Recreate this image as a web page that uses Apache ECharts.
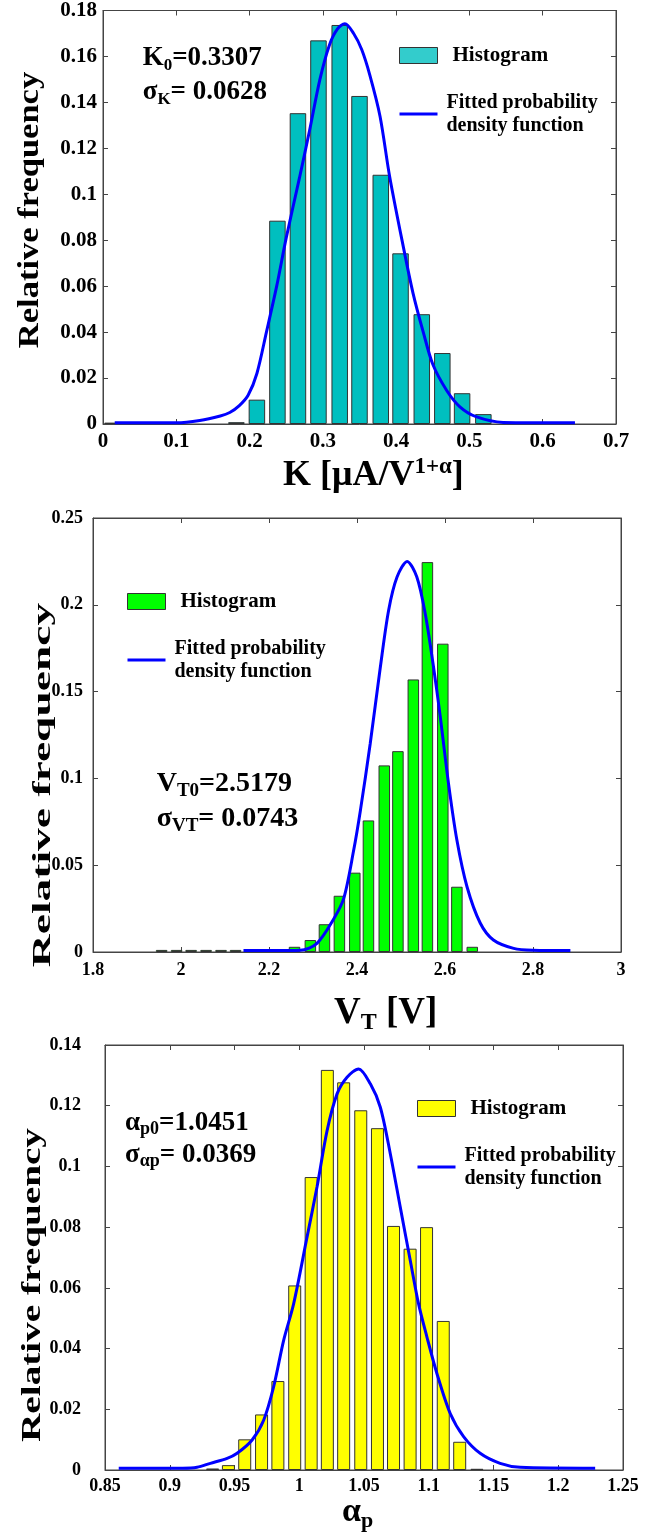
<!DOCTYPE html>
<html>
<head>
<meta charset="utf-8">
<script src="https://cdn.jsdelivr.net/npm/echarts@6/dist/echarts.min.js"></script>
<style>
  html, body { margin: 0; padding: 0; background: #fff; }
  #chart { width: 661px; height: 1533px; }
</style>
</head>
<body>
<div id="chart"></div>
<script>
// --- panel 1: K ---
const kBinCenters = [0.013, 0.182, 0.210, 0.238, 0.266, 0.294, 0.323, 0.350, 0.379, 0.406, 0.435, 0.463, 0.490, 0.519];
const kFrequency = [0.0006, 0.0008, 0.0106, 0.0885, 0.1353, 0.1670, 0.1737, 0.1428, 0.1085, 0.0743, 0.0478, 0.0309, 0.0134, 0.0043];
const kFitX = [0.016, 0.100, 0.132, 0.160, 0.173, 0.186, 0.198, 0.210, 0.223, 0.237, 0.250, 0.268, 0.282, 0.296, 0.309, 0.320, 0.330, 0.342, 0.353, 0.364, 0.378, 0.391, 0.409, 0.423, 0.437, 0.450, 0.469, 0.487, 0.509, 0.546, 0.644];
const kFitY = [0.0005, 0.0005, 0.0015, 0.0035, 0.005, 0.008, 0.0125, 0.022, 0.040, 0.060, 0.081, 0.107, 0.128, 0.150, 0.165, 0.172, 0.1742, 0.170, 0.163, 0.152, 0.134, 0.108, 0.0784, 0.057, 0.040, 0.026, 0.0146, 0.0075, 0.0032, 0.0007, 0.0005];

// --- panel 2: VT ---
const vBinCenters = [1.956, 1.990, 2.023, 2.057, 2.091, 2.124, 2.258, 2.294, 2.326, 2.360, 2.395, 2.426, 2.462, 2.493, 2.528, 2.560, 2.595, 2.627, 2.662];
const vFrequency = [0.0012, 0.0012, 0.0012, 0.0012, 0.0012, 0.0012, 0.003, 0.0069, 0.016, 0.0324, 0.0457, 0.0758, 0.1075, 0.1157, 0.157, 0.2246, 0.1776, 0.0376, 0.003];
const vFitX = [2.142, 2.200, 2.271, 2.309, 2.347, 2.370, 2.392, 2.408, 2.430, 2.453, 2.472, 2.491, 2.514, 2.536, 2.555, 2.574, 2.589, 2.608, 2.627, 2.650, 2.680, 2.710, 2.756, 2.800, 2.885];
const vFitY = [0.0008, 0.0008, 0.001, 0.005, 0.019, 0.031, 0.058, 0.082, 0.120, 0.164, 0.197, 0.216, 0.225, 0.216, 0.195, 0.164, 0.136, 0.097, 0.0645, 0.0376, 0.0167, 0.0069, 0.0021, 0.001, 0.0008];

// --- panel 3: alpha_p ---
const aBinCenters = [0.9331, 0.9453, 0.9579, 0.9709, 0.9835, 0.9965, 1.0092, 1.0217, 1.0343, 1.0475, 1.0604, 1.0728, 1.0856, 1.0983, 1.1112, 1.1239, 1.1372];
const aFrequency = [0.0005, 0.0016, 0.0101, 0.0183, 0.0293, 0.0608, 0.0965, 0.1318, 0.1277, 0.1185, 0.1126, 0.0804, 0.0729, 0.0800, 0.0491, 0.0093, 0.0004];
const aFitX = [0.8606, 0.9100, 0.9211, 0.9314, 0.9443, 0.9520, 0.9636, 0.9725, 0.9802, 0.9880, 0.9957, 1.0060, 1.0137, 1.0215, 1.0292, 1.0369, 1.0458, 1.0549, 1.0626, 1.0703, 1.0780, 1.0857, 1.0921, 1.0986, 1.1063, 1.1166, 1.1269, 1.1397, 1.1551, 1.1706, 1.2285];
const aFitY = [0.0006, 0.0006, 0.0009, 0.0022, 0.0038, 0.0055, 0.0099, 0.0164, 0.0274, 0.0428, 0.0548, 0.0767, 0.0932, 0.1118, 0.1239, 0.1294, 0.1321, 0.1272, 0.1195, 0.1042, 0.0866, 0.0691, 0.0548, 0.0438, 0.0318, 0.0186, 0.0110, 0.0055, 0.0022, 0.0009, 0.0006];

// axis ranges: [min, max, interval]
const xRanges = [[0, 0.7, 0.1], [1.8, 3, 0.2], [0.85, 1.25, 0.05]];
const yRanges = [[0, 0.18, 0.02], [0, 0.25, 0.05], [0, 0.14, 0.02]];

const HIST = "Histogram";
const FIT = "Fitted probability\ndensity function";
const FONT = "Liberation Serif";
const FRAME = "#444";
const histColors = ["#00bfbf", "#00ff00", "#ffff00"];
const legendColors = ["#33cccc", "#00ff00", "#ffff00"];

const grids = [
  { left: 103, top: 2, width: 513, height: 422 },
  { left: 93, top: 518, width: 528, height: 434 },
  { left: 105, top: 1045, width: 518, height: 425 },
];
const tickFont = [21, 18, 18];
const yLabelMargin = [6, 10, 24];
const xLabelMargin = [7, 9, 7];

function valueAxis(i, range, extra) {
  return Object.assign({
    type: "value",
    gridIndex: i,
    min: range[0],
    max: range[1],
    interval: range[2],
    splitLine: { show: false },
    axisLine: { show: true, onZero: false, lineStyle: { color: FRAME, width: 1 } },
    axisTick: { show: true, inside: true, length: 5, lineStyle: { color: FRAME } },
    axisLabel: {
      fontFamily: FONT, fontWeight: "bold", fontSize: tickFont[i], color: "#000",
    },
  }, extra);
}

const xAxes = [];
const yAxes = [];
[0, 1, 2].forEach((i) => {
  xAxes.push(valueAxis(i, xRanges[i], {
    position: "bottom",
    axisLabel: { fontFamily: FONT, fontWeight: "bold", fontSize: tickFont[i], color: "#000", margin: xLabelMargin[i] },
  }));
  yAxes.push(valueAxis(i, yRanges[i], {
    position: "left",
    axisLabel: { fontFamily: FONT, fontWeight: "bold", fontSize: tickFont[i], color: "#000", margin: yLabelMargin[i] },
  }));
});
[0, 1, 2].forEach((i) => {
  xAxes.push(valueAxis(i, xRanges[i], { position: "top", axisLabel: { show: false } }));
  yAxes.push(valueAxis(i, yRanges[i], { position: "right", axisLabel: { show: false } }));
});

const panels = [
  [kBinCenters, kFrequency, kFitX, kFitY, 16.5],
  [vBinCenters, vFrequency, vFitX, vFitY, 11.5],
  [aBinCenters, aFrequency, aFitX, aFitY, 13],
];

const series = [];
panels.forEach(([centers, freq, fitX, fitY, barW], i) => {
  series.push({
    name: HIST,
    type: "bar",
    xAxisIndex: i,
    yAxisIndex: i,
    barWidth: barW,
    data: centers.map((c, j) => [c, freq[j]]),
    itemStyle: { color: histColors[i], borderColor: "#333", borderWidth: 1 },
    z: 2,
  });
  series.push({
    name: FIT,
    type: "line",
    xAxisIndex: i,
    yAxisIndex: i,
    smooth: 0.3,
    symbol: "none",
    data: fitX.map((x, j) => [x, fitY[j]]),
    lineStyle: { color: "#0000ff", width: 3 },
    itemStyle: { color: "#0000ff" },
    z: 3,
  });
});

const legendPos = [[399, 44], [127, 590], [417, 1097]];
const legends = legendPos.map(([left, top], i) => ({
  left, top,
  padding: 0,
  orient: "vertical",
  itemWidth: 38,
  itemHeight: 16,
  itemGap: 24,
  selectedMode: false,
  textStyle: { fontFamily: FONT, fontWeight: "bold", fontSize: 20, lineHeight: 23, color: "#000" },
  data: [
    { name: HIST, icon: "rect", itemStyle: { color: legendColors[i], borderColor: "#333", borderWidth: 1 },
      textStyle: { fontSize: 21, padding: [0, 0, 0, 10] } },
    { name: FIT, icon: "path://M0,0H38V3H0Z", itemStyle: { color: "#0000ff", borderWidth: 0 },
      textStyle: { padding: [0, 0, 0, 4] } },
  ],
}));

function richText(x, y, text, main, sub, lineH, extra) {
  return Object.assign({
    type: "text",
    x, y,
    silent: true,
    style: {
      text,
      fill: "#000",
      align: "left",
      verticalAlign: "top",
      rich: {
        m: { fontFamily: FONT, fontWeight: "bold", fontSize: main, lineHeight: lineH, fill: "#000" },
        s: { fontFamily: FONT, fontWeight: "bold", fontSize: sub, lineHeight: lineH, verticalAlign: "bottom", fill: "#000" },
        u: { fontFamily: FONT, fontWeight: "bold", fontSize: sub, lineHeight: lineH, verticalAlign: "top", fill: "#000" },
      },
    },
  }, extra || {});
}

function yTitle(x, y, size, stretch) {
  return {
    type: "text",
    x, y,
    rotation: Math.PI / 2,
    scaleX: stretch,
    silent: true,
    style: {
      text: "Relative frequency",
      fontFamily: FONT, fontWeight: "bold", fontSize: size,
      fill: "#000", align: "center", verticalAlign: "middle",
    },
  };
}

const graphics = [
  yTitle(30, 210, 30, 1.15),
  yTitle(43, 785, 26, 1.75),
  yTitle(33, 1285, 28, 1.4),
  richText(142.7, 40.6, "{m|K}{s|0}{m|=0.3307}\n{m|σ}{s|K}{m|= 0.0628}", 27, 17, 34),
  richText(156.7, 766, "{m|V}{s|T0}{m|=2.5179}\n{m|σ}{s|VT}{m|= 0.0743}", 28, 19, 35),
  richText(125, 1106.6, "{m|α}{s|p0}{m|=1.0451}\n{m|σ}{s|αp}{m|= 0.0369}", 27, 18, 32),
  richText(283, 456, "{m|K [μA/V}{u|1+α}{m|]}", 36, 23, 40),
  richText(334, 991, "{m|V}{s|T}{m| [V]}", 37, 24, 44),
  richText(342, 1492, "{m|α}{s|p}", 34, 22, 40),
];

const chart = echarts.init(document.getElementById("chart"), null, { renderer: "canvas" });
chart.setOption({
  animation: false,
  backgroundColor: "#fff",
  grid: grids.map((g) => Object.assign({ show: true, borderColor: FRAME, borderWidth: 1, backgroundColor: "transparent" }, g)),
  xAxis: xAxes,
  yAxis: yAxes,
  legend: legends,
  series,
  graphic: graphics,
});
</script>
</body>
</html>
